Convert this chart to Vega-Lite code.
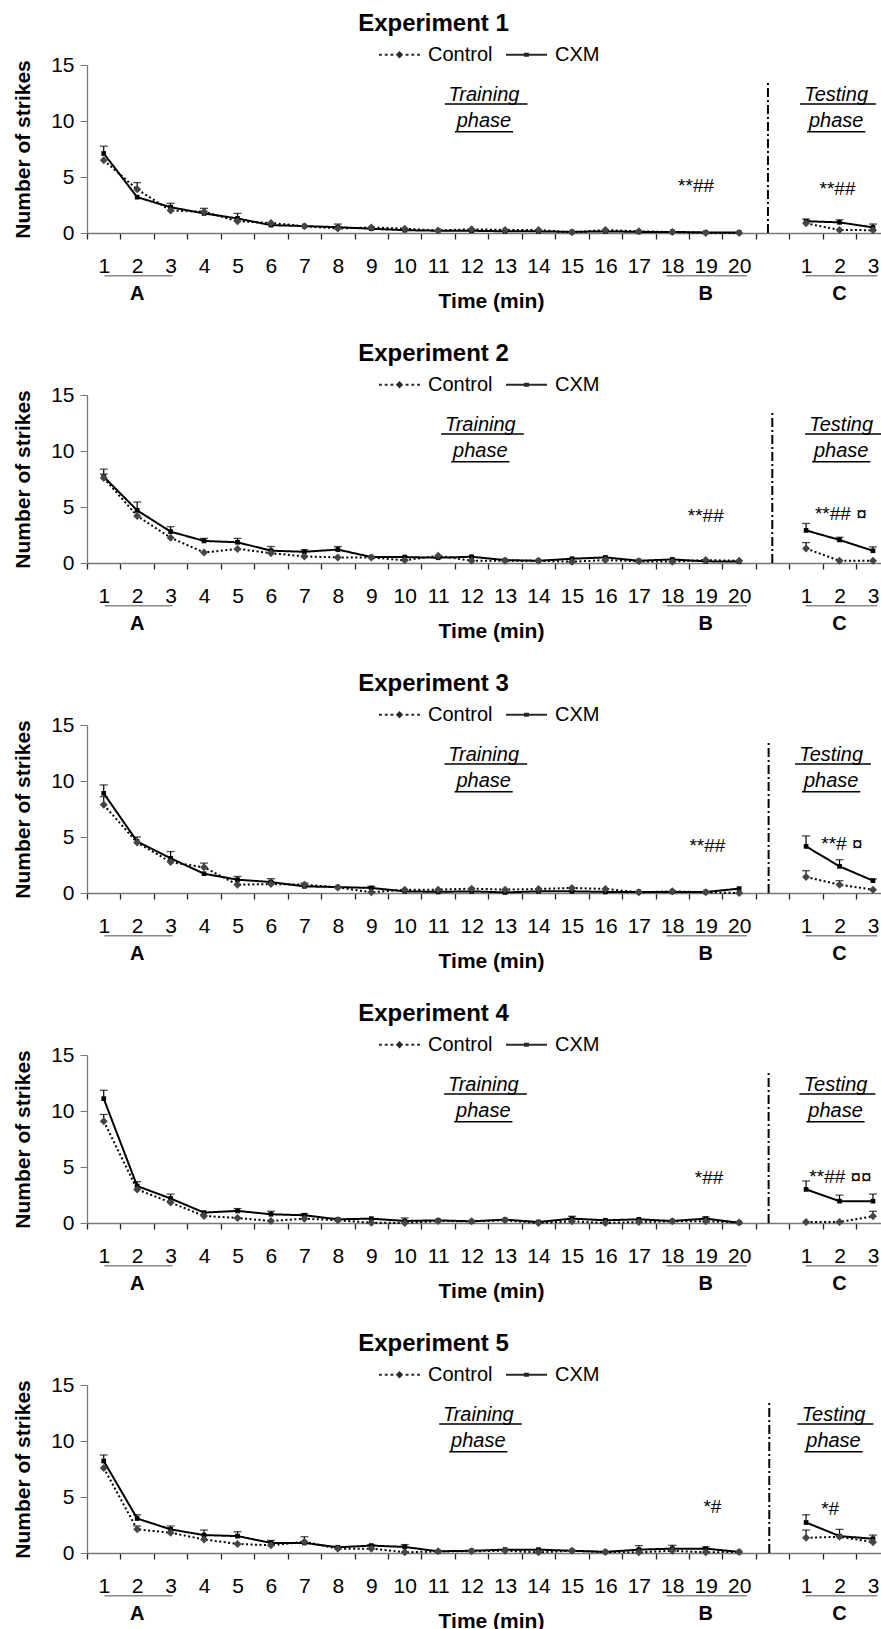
{
"$schema": "https://vega.github.io/schema/vega-lite/v6.json",
"padding": {"left": 12, "top": 12, "right": 0, "bottom": 0},
"background": "white",
"config": {
 "font": "Liberation Sans",
 "view": {"stroke": null},
 "title": {"fontSize": 24, "fontWeight": "bold", "color": "black", "anchor": "middle", "frame": "group", "offset": -3},
 "axis": {"grid": false}
},
"datasets": {
 "d": [
{"e":1,"g":"CXM","phase":"Training","t":1,"y":7.1,"hi":7.75},{"e":1,"g":"CXM","phase":"Training","t":2,"y":3.2},{"e":1,"g":"CXM","phase":"Training","t":3,"y":2.3,"hi":2.65},{"e":1,"g":"CXM","phase":"Training","t":4,"y":1.75},{"e":1,"g":"CXM","phase":"Training","t":5,"y":1.3,"hi":1.75},{"e":1,"g":"CXM","phase":"Training","t":6,"y":0.7},{"e":1,"g":"CXM","phase":"Training","t":7,"y":0.62},{"e":1,"g":"CXM","phase":"Training","t":8,"y":0.52,"hi":0.8},{"e":1,"g":"CXM","phase":"Training","t":9,"y":0.38},{"e":1,"g":"CXM","phase":"Training","t":10,"y":0.25},{"e":1,"g":"CXM","phase":"Training","t":11,"y":0.2},{"e":1,"g":"CXM","phase":"Training","t":12,"y":0.2},{"e":1,"g":"CXM","phase":"Training","t":13,"y":0.15},{"e":1,"g":"CXM","phase":"Training","t":14,"y":0.15},{"e":1,"g":"CXM","phase":"Training","t":15,"y":0.1},{"e":1,"g":"CXM","phase":"Training","t":16,"y":0.15},{"e":1,"g":"CXM","phase":"Training","t":17,"y":0.1},{"e":1,"g":"CXM","phase":"Training","t":18,"y":0.1},{"e":1,"g":"CXM","phase":"Training","t":19,"y":0.05},{"e":1,"g":"CXM","phase":"Training","t":20,"y":0.05},
{"e":1,"g":"CXM","phase":"Testing","t":1,"y":1.05,"hi":1.25},{"e":1,"g":"CXM","phase":"Testing","t":2,"y":0.95,"hi":1.18},{"e":1,"g":"CXM","phase":"Testing","t":3,"y":0.5,"hi":0.8},
{"e":1,"g":"Control","phase":"Training","t":1,"y":6.5},{"e":1,"g":"Control","phase":"Training","t":2,"y":3.9,"hi":4.5},{"e":1,"g":"Control","phase":"Training","t":3,"y":2.0},{"e":1,"g":"Control","phase":"Training","t":4,"y":1.9,"hi":2.2},{"e":1,"g":"Control","phase":"Training","t":5,"y":1.05},{"e":1,"g":"Control","phase":"Training","t":6,"y":0.9},{"e":1,"g":"Control","phase":"Training","t":7,"y":0.6},{"e":1,"g":"Control","phase":"Training","t":8,"y":0.4},{"e":1,"g":"Control","phase":"Training","t":9,"y":0.5},{"e":1,"g":"Control","phase":"Training","t":10,"y":0.38},{"e":1,"g":"Control","phase":"Training","t":11,"y":0.23},{"e":1,"g":"Control","phase":"Training","t":12,"y":0.33},{"e":1,"g":"Control","phase":"Training","t":13,"y":0.27},{"e":1,"g":"Control","phase":"Training","t":14,"y":0.27},{"e":1,"g":"Control","phase":"Training","t":15,"y":0.06},{"e":1,"g":"Control","phase":"Training","t":16,"y":0.27},{"e":1,"g":"Control","phase":"Training","t":17,"y":0.15},{"e":1,"g":"Control","phase":"Training","t":18,"y":0.09},{"e":1,"g":"Control","phase":"Training","t":19,"y":0.0},{"e":1,"g":"Control","phase":"Training","t":20,"y":0.0},
{"e":1,"g":"Control","phase":"Testing","t":1,"y":0.86},{"e":1,"g":"Control","phase":"Testing","t":2,"y":0.27},{"e":1,"g":"Control","phase":"Testing","t":3,"y":0.25},
{"e":2,"g":"CXM","phase":"Training","t":1,"y":7.7,"hi":8.38},{"e":2,"g":"CXM","phase":"Training","t":2,"y":4.7,"hi":5.44},{"e":2,"g":"CXM","phase":"Training","t":3,"y":2.8,"hi":3.24},{"e":2,"g":"CXM","phase":"Training","t":4,"y":1.97,"hi":2.2},{"e":2,"g":"CXM","phase":"Training","t":5,"y":1.85,"hi":2.2},{"e":2,"g":"CXM","phase":"Training","t":6,"y":1.1,"hi":1.47},{"e":2,"g":"CXM","phase":"Training","t":7,"y":1.0,"hi":1.18},{"e":2,"g":"CXM","phase":"Training","t":8,"y":1.2,"hi":1.47},{"e":2,"g":"CXM","phase":"Training","t":9,"y":0.53},{"e":2,"g":"CXM","phase":"Training","t":10,"y":0.53},{"e":2,"g":"CXM","phase":"Training","t":11,"y":0.47},{"e":2,"g":"CXM","phase":"Training","t":12,"y":0.56},{"e":2,"g":"CXM","phase":"Training","t":13,"y":0.26},{"e":2,"g":"CXM","phase":"Training","t":14,"y":0.2},{"e":2,"g":"CXM","phase":"Training","t":15,"y":0.38},{"e":2,"g":"CXM","phase":"Training","t":16,"y":0.5},{"e":2,"g":"CXM","phase":"Training","t":17,"y":0.2},{"e":2,"g":"CXM","phase":"Training","t":18,"y":0.32},{"e":2,"g":"CXM","phase":"Training","t":19,"y":0.15},{"e":2,"g":"CXM","phase":"Training","t":20,"y":0.12},
{"e":2,"g":"CXM","phase":"Testing","t":1,"y":2.91,"hi":3.53},{"e":2,"g":"CXM","phase":"Testing","t":2,"y":2.06,"hi":2.3},{"e":2,"g":"CXM","phase":"Testing","t":3,"y":1.09,"hi":1.44},
{"e":2,"g":"Control","phase":"Training","t":1,"y":7.6,"hi":7.94},{"e":2,"g":"Control","phase":"Training","t":2,"y":4.2},{"e":2,"g":"Control","phase":"Training","t":3,"y":2.26},{"e":2,"g":"Control","phase":"Training","t":4,"y":0.94},{"e":2,"g":"Control","phase":"Training","t":5,"y":1.26},{"e":2,"g":"Control","phase":"Training","t":6,"y":0.88},{"e":2,"g":"Control","phase":"Training","t":7,"y":0.59},{"e":2,"g":"Control","phase":"Training","t":8,"y":0.5},{"e":2,"g":"Control","phase":"Training","t":9,"y":0.5},{"e":2,"g":"Control","phase":"Training","t":10,"y":0.24},{"e":2,"g":"Control","phase":"Training","t":11,"y":0.65},{"e":2,"g":"Control","phase":"Training","t":12,"y":0.2},{"e":2,"g":"Control","phase":"Training","t":13,"y":0.2},{"e":2,"g":"Control","phase":"Training","t":14,"y":0.2},{"e":2,"g":"Control","phase":"Training","t":15,"y":0.12},{"e":2,"g":"Control","phase":"Training","t":16,"y":0.26},{"e":2,"g":"Control","phase":"Training","t":17,"y":0.15},{"e":2,"g":"Control","phase":"Training","t":18,"y":0.12},{"e":2,"g":"Control","phase":"Training","t":19,"y":0.26},{"e":2,"g":"Control","phase":"Training","t":20,"y":0.2},
{"e":2,"g":"Control","phase":"Testing","t":1,"y":1.29,"hi":1.82},{"e":2,"g":"Control","phase":"Testing","t":2,"y":0.2},{"e":2,"g":"Control","phase":"Testing","t":3,"y":0.2},
{"e":3,"g":"CXM","phase":"Training","t":1,"y":8.9,"hi":9.65},{"e":3,"g":"CXM","phase":"Training","t":2,"y":4.6,"hi":5.0},{"e":3,"g":"CXM","phase":"Training","t":3,"y":3.1,"hi":3.7},{"e":3,"g":"CXM","phase":"Training","t":4,"y":1.72},{"e":3,"g":"CXM","phase":"Training","t":5,"y":1.19,"hi":1.48},{"e":3,"g":"CXM","phase":"Training","t":6,"y":0.98,"hi":1.28},{"e":3,"g":"CXM","phase":"Training","t":7,"y":0.59,"hi":0.89},{"e":3,"g":"CXM","phase":"Training","t":8,"y":0.53},{"e":3,"g":"CXM","phase":"Training","t":9,"y":0.45,"hi":0.59},{"e":3,"g":"CXM","phase":"Training","t":10,"y":0.15},{"e":3,"g":"CXM","phase":"Training","t":11,"y":0.1},{"e":3,"g":"CXM","phase":"Training","t":12,"y":0.15},{"e":3,"g":"CXM","phase":"Training","t":13,"y":0.05},{"e":3,"g":"CXM","phase":"Training","t":14,"y":0.15},{"e":3,"g":"CXM","phase":"Training","t":15,"y":0.15},{"e":3,"g":"CXM","phase":"Training","t":16,"y":0.1},{"e":3,"g":"CXM","phase":"Training","t":17,"y":0.1},{"e":3,"g":"CXM","phase":"Training","t":18,"y":0.1},{"e":3,"g":"CXM","phase":"Training","t":19,"y":0.09},{"e":3,"g":"CXM","phase":"Training","t":20,"y":0.39},
{"e":3,"g":"CXM","phase":"Testing","t":1,"y":4.16,"hi":5.1},{"e":3,"g":"CXM","phase":"Testing","t":2,"y":2.38,"hi":2.97},{"e":3,"g":"CXM","phase":"Testing","t":3,"y":1.1,"hi":1.25},
{"e":3,"g":"Control","phase":"Training","t":1,"y":7.87,"hi":8.6},{"e":3,"g":"Control","phase":"Training","t":2,"y":4.5},{"e":3,"g":"Control","phase":"Training","t":3,"y":2.76},{"e":3,"g":"Control","phase":"Training","t":4,"y":2.29,"hi":2.67},{"e":3,"g":"Control","phase":"Training","t":5,"y":0.74},{"e":3,"g":"Control","phase":"Training","t":6,"y":0.8},{"e":3,"g":"Control","phase":"Training","t":7,"y":0.74},{"e":3,"g":"Control","phase":"Training","t":8,"y":0.5},{"e":3,"g":"Control","phase":"Training","t":9,"y":0.06},{"e":3,"g":"Control","phase":"Training","t":10,"y":0.3},{"e":3,"g":"Control","phase":"Training","t":11,"y":0.3},{"e":3,"g":"Control","phase":"Training","t":12,"y":0.39},{"e":3,"g":"Control","phase":"Training","t":13,"y":0.3},{"e":3,"g":"Control","phase":"Training","t":14,"y":0.36},{"e":3,"g":"Control","phase":"Training","t":15,"y":0.45},{"e":3,"g":"Control","phase":"Training","t":16,"y":0.36},{"e":3,"g":"Control","phase":"Training","t":17,"y":0.06},{"e":3,"g":"Control","phase":"Training","t":18,"y":0.15},{"e":3,"g":"Control","phase":"Training","t":19,"y":0.06},{"e":3,"g":"Control","phase":"Training","t":20,"y":0.0},
{"e":3,"g":"Control","phase":"Testing","t":1,"y":1.43,"hi":1.99},{"e":3,"g":"Control","phase":"Testing","t":2,"y":0.74,"hi":1.1},{"e":3,"g":"Control","phase":"Testing","t":3,"y":0.3},
{"e":4,"g":"CXM","phase":"Training","t":1,"y":11.1,"hi":11.85},{"e":4,"g":"CXM","phase":"Training","t":2,"y":3.3,"hi":3.69},{"e":4,"g":"CXM","phase":"Training","t":3,"y":2.19,"hi":2.58},{"e":4,"g":"CXM","phase":"Training","t":4,"y":0.93},{"e":4,"g":"CXM","phase":"Training","t":5,"y":1.08,"hi":1.29},{"e":4,"g":"CXM","phase":"Training","t":6,"y":0.78,"hi":1.05},{"e":4,"g":"CXM","phase":"Training","t":7,"y":0.69,"hi":0.84},{"e":4,"g":"CXM","phase":"Training","t":8,"y":0.33},{"e":4,"g":"CXM","phase":"Training","t":9,"y":0.39},{"e":4,"g":"CXM","phase":"Training","t":10,"y":0.18,"hi":0.45},{"e":4,"g":"CXM","phase":"Training","t":11,"y":0.24},{"e":4,"g":"CXM","phase":"Training","t":12,"y":0.15},{"e":4,"g":"CXM","phase":"Training","t":13,"y":0.3},{"e":4,"g":"CXM","phase":"Training","t":14,"y":0.09},{"e":4,"g":"CXM","phase":"Training","t":15,"y":0.39,"hi":0.6},{"e":4,"g":"CXM","phase":"Training","t":16,"y":0.24},{"e":4,"g":"CXM","phase":"Training","t":17,"y":0.33},{"e":4,"g":"CXM","phase":"Training","t":18,"y":0.18},{"e":4,"g":"CXM","phase":"Training","t":19,"y":0.39,"hi":0.54},{"e":4,"g":"CXM","phase":"Training","t":20,"y":0.02},
{"e":4,"g":"CXM","phase":"Testing","t":1,"y":3.0,"hi":3.75},{"e":4,"g":"CXM","phase":"Testing","t":2,"y":1.95,"hi":2.49},{"e":4,"g":"CXM","phase":"Testing","t":3,"y":1.95,"hi":2.58},
{"e":4,"g":"Control","phase":"Training","t":1,"y":9.09,"hi":9.69},{"e":4,"g":"Control","phase":"Training","t":2,"y":3.0},{"e":4,"g":"Control","phase":"Training","t":3,"y":1.83},{"e":4,"g":"Control","phase":"Training","t":4,"y":0.63},{"e":4,"g":"Control","phase":"Training","t":5,"y":0.45},{"e":4,"g":"Control","phase":"Training","t":6,"y":0.18},{"e":4,"g":"Control","phase":"Training","t":7,"y":0.39},{"e":4,"g":"Control","phase":"Training","t":8,"y":0.24},{"e":4,"g":"Control","phase":"Training","t":9,"y":0.03},{"e":4,"g":"Control","phase":"Training","t":10,"y":0.0},{"e":4,"g":"Control","phase":"Training","t":11,"y":0.18},{"e":4,"g":"Control","phase":"Training","t":12,"y":0.15},{"e":4,"g":"Control","phase":"Training","t":13,"y":0.24},{"e":4,"g":"Control","phase":"Training","t":14,"y":0.0},{"e":4,"g":"Control","phase":"Training","t":15,"y":0.15},{"e":4,"g":"Control","phase":"Training","t":16,"y":0.0},{"e":4,"g":"Control","phase":"Training","t":17,"y":0.09},{"e":4,"g":"Control","phase":"Training","t":18,"y":0.15},{"e":4,"g":"Control","phase":"Training","t":19,"y":0.15},{"e":4,"g":"Control","phase":"Training","t":20,"y":0.05},
{"e":4,"g":"Control","phase":"Testing","t":1,"y":0.09},{"e":4,"g":"Control","phase":"Testing","t":2,"y":0.09},{"e":4,"g":"Control","phase":"Testing","t":3,"y":0.6,"hi":1.05},
{"e":5,"g":"CXM","phase":"Training","t":1,"y":8.21,"hi":8.75},{"e":5,"g":"CXM","phase":"Training","t":2,"y":3.08,"hi":3.41},{"e":5,"g":"CXM","phase":"Training","t":3,"y":2.11,"hi":2.41},{"e":5,"g":"CXM","phase":"Training","t":4,"y":1.6,"hi":2.05},{"e":5,"g":"CXM","phase":"Training","t":5,"y":1.51,"hi":1.9},{"e":5,"g":"CXM","phase":"Training","t":6,"y":0.9,"hi":1.12},{"e":5,"g":"CXM","phase":"Training","t":7,"y":0.9,"hi":1.45},{"e":5,"g":"CXM","phase":"Training","t":8,"y":0.51},{"e":5,"g":"CXM","phase":"Training","t":9,"y":0.66,"hi":0.75},{"e":5,"g":"CXM","phase":"Training","t":10,"y":0.54,"hi":0.75},{"e":5,"g":"CXM","phase":"Training","t":11,"y":0.15},{"e":5,"g":"CXM","phase":"Training","t":12,"y":0.2},{"e":5,"g":"CXM","phase":"Training","t":13,"y":0.3},{"e":5,"g":"CXM","phase":"Training","t":14,"y":0.3},{"e":5,"g":"CXM","phase":"Training","t":15,"y":0.2},{"e":5,"g":"CXM","phase":"Training","t":16,"y":0.1},{"e":5,"g":"CXM","phase":"Training","t":17,"y":0.3,"hi":0.66},{"e":5,"g":"CXM","phase":"Training","t":18,"y":0.39,"hi":0.69},{"e":5,"g":"CXM","phase":"Training","t":19,"y":0.39,"hi":0.54},{"e":5,"g":"CXM","phase":"Training","t":20,"y":0.1},
{"e":5,"g":"CXM","phase":"Testing","t":1,"y":2.72,"hi":3.41},{"e":5,"g":"CXM","phase":"Testing","t":2,"y":1.51,"hi":2.11},{"e":5,"g":"CXM","phase":"Testing","t":3,"y":1.27,"hi":1.6},
{"e":5,"g":"Control","phase":"Training","t":1,"y":7.6},{"e":5,"g":"Control","phase":"Training","t":2,"y":2.11,"hi":2.41},{"e":5,"g":"Control","phase":"Training","t":3,"y":1.81},{"e":5,"g":"Control","phase":"Training","t":4,"y":1.21},{"e":5,"g":"Control","phase":"Training","t":5,"y":0.81},{"e":5,"g":"Control","phase":"Training","t":6,"y":0.69},{"e":5,"g":"Control","phase":"Training","t":7,"y":1.0},{"e":5,"g":"Control","phase":"Training","t":8,"y":0.39},{"e":5,"g":"Control","phase":"Training","t":9,"y":0.39},{"e":5,"g":"Control","phase":"Training","t":10,"y":0.06},{"e":5,"g":"Control","phase":"Training","t":11,"y":0.15},{"e":5,"g":"Control","phase":"Training","t":12,"y":0.15},{"e":5,"g":"Control","phase":"Training","t":13,"y":0.2},{"e":5,"g":"Control","phase":"Training","t":14,"y":0.06},{"e":5,"g":"Control","phase":"Training","t":15,"y":0.2},{"e":5,"g":"Control","phase":"Training","t":16,"y":0.1},{"e":5,"g":"Control","phase":"Training","t":17,"y":0.06},{"e":5,"g":"Control","phase":"Training","t":18,"y":0.2},{"e":5,"g":"Control","phase":"Training","t":19,"y":0.06},{"e":5,"g":"Control","phase":"Training","t":20,"y":0.1},
{"e":5,"g":"Control","phase":"Testing","t":1,"y":1.36,"hi":2.05},{"e":5,"g":"Control","phase":"Testing","t":2,"y":1.45},{"e":5,"g":"Control","phase":"Testing","t":3,"y":0.97}
 ],
 "ann": [
{"e":1,"kind":"phase","x":12.37,"y":11.81,"text":"Training"},{"e":1,"kind":"phase","x":12.37,"y":9.43,"text":"phase"},{"e":1,"kind":"phase","x":22.9,"y":11.81,"text":"Testing"},{"e":1,"kind":"phase","x":22.9,"y":9.43,"text":"phase"},
{"e":1,"kind":"sig","x":18.71,"y":4.2,"text":"**##"},{"e":1,"kind":"sig","x":22.94,"y":3.95,"text":"**##"},
{"e":1,"kind":"abc","x":2,"y":-5.45,"text":"A"},{"e":1,"kind":"abc","x":19,"y":-5.45,"text":"B"},{"e":1,"kind":"abc","x":23,"y":-5.45,"text":"C"},
{"e":2,"kind":"phase","x":12.26,"y":11.81,"text":"Training"},{"e":2,"kind":"phase","x":12.26,"y":9.43,"text":"phase"},{"e":2,"kind":"phase","x":23.05,"y":11.81,"text":"Testing"},{"e":2,"kind":"phase","x":23.05,"y":9.43,"text":"phase"},
{"e":2,"kind":"sig","x":19.0,"y":4.2,"text":"**##"},{"e":2,"kind":"sig","x":23.04,"y":4.4,"text":"**## ¤"},
{"e":2,"kind":"abc","x":2,"y":-5.45,"text":"A"},{"e":2,"kind":"abc","x":19,"y":-5.45,"text":"B"},{"e":2,"kind":"abc","x":23,"y":-5.45,"text":"C"},
{"e":3,"kind":"phase","x":12.36,"y":11.81,"text":"Training"},{"e":3,"kind":"phase","x":12.36,"y":9.43,"text":"phase"},{"e":3,"kind":"phase","x":22.75,"y":11.81,"text":"Testing"},{"e":3,"kind":"phase","x":22.75,"y":9.43,"text":"phase"},
{"e":3,"kind":"sig","x":19.05,"y":4.2,"text":"**##"},{"e":3,"kind":"sig","x":23.07,"y":4.36,"text":"**# ¤"},
{"e":3,"kind":"abc","x":2,"y":-5.45,"text":"A"},{"e":3,"kind":"abc","x":19,"y":-5.45,"text":"B"},{"e":3,"kind":"abc","x":23,"y":-5.45,"text":"C"},
{"e":4,"kind":"phase","x":12.35,"y":11.81,"text":"Training"},{"e":4,"kind":"phase","x":12.35,"y":9.43,"text":"phase"},{"e":4,"kind":"phase","x":22.88,"y":11.81,"text":"Testing"},{"e":4,"kind":"phase","x":22.88,"y":9.43,"text":"phase"},
{"e":4,"kind":"sig","x":19.1,"y":4.03,"text":"*##"},{"e":4,"kind":"sig","x":23.03,"y":4.15,"text":"**## ¤¤"},
{"e":4,"kind":"abc","x":2,"y":-5.45,"text":"A"},{"e":4,"kind":"abc","x":19,"y":-5.45,"text":"B"},{"e":4,"kind":"abc","x":23,"y":-5.45,"text":"C"},
{"e":5,"kind":"phase","x":12.2,"y":11.81,"text":"Training"},{"e":5,"kind":"phase","x":12.2,"y":9.43,"text":"phase"},{"e":5,"kind":"phase","x":22.82,"y":11.81,"text":"Testing"},{"e":5,"kind":"phase","x":22.82,"y":9.43,"text":"phase"},
{"e":5,"kind":"sig","x":19.2,"y":4.1,"text":"*#"},{"e":5,"kind":"sig","x":22.72,"y":3.92,"text":"*#"},
{"e":5,"kind":"abc","x":2,"y":-5.45,"text":"A"},{"e":5,"kind":"abc","x":19,"y":-5.45,"text":"B"},{"e":5,"kind":"abc","x":23,"y":-5.45,"text":"C"}
 ],
 "ul": [
{"e":1,"kind":"phase","x":11.2,"x2":13.67,"y":11.52},{"e":1,"kind":"phase","x":11.5,"x2":13.24,"y":9.04},{"e":1,"kind":"phase","x":21.82,"x2":24.09,"y":11.52},{"e":1,"kind":"phase","x":22.03,"x2":23.77,"y":9.04},
{"e":1,"kind":"abc","x":1.02,"x2":3.06,"y":-3.81},{"e":1,"kind":"abc","x":17.83,"x2":20.23,"y":-3.81},{"e":1,"kind":"abc","x":21.99,"x2":24.13,"y":-3.81},
{"e":2,"kind":"phase","x":11.09,"x2":13.56,"y":11.52},{"e":2,"kind":"phase","x":11.39,"x2":13.13,"y":9.04},{"e":2,"kind":"phase","x":21.97,"x2":24.24,"y":11.52},{"e":2,"kind":"phase","x":22.18,"x2":23.92,"y":9.04},
{"e":2,"kind":"abc","x":1.02,"x2":3.06,"y":-3.81},{"e":2,"kind":"abc","x":17.83,"x2":20.23,"y":-3.81},{"e":2,"kind":"abc","x":21.99,"x2":24.13,"y":-3.81},
{"e":3,"kind":"phase","x":11.19,"x2":13.66,"y":11.52},{"e":3,"kind":"phase","x":11.49,"x2":13.23,"y":9.04},{"e":3,"kind":"phase","x":21.67,"x2":23.94,"y":11.52},{"e":3,"kind":"phase","x":21.88,"x2":23.62,"y":9.04},
{"e":3,"kind":"abc","x":1.02,"x2":3.06,"y":-3.81},{"e":3,"kind":"abc","x":17.83,"x2":20.23,"y":-3.81},{"e":3,"kind":"abc","x":21.99,"x2":24.13,"y":-3.81},
{"e":4,"kind":"phase","x":11.18,"x2":13.65,"y":11.52},{"e":4,"kind":"phase","x":11.48,"x2":13.22,"y":9.04},{"e":4,"kind":"phase","x":21.8,"x2":24.07,"y":11.52},{"e":4,"kind":"phase","x":22.01,"x2":23.75,"y":9.04},
{"e":4,"kind":"abc","x":1.02,"x2":3.06,"y":-3.81},{"e":4,"kind":"abc","x":17.83,"x2":20.23,"y":-3.81},{"e":4,"kind":"abc","x":21.99,"x2":24.13,"y":-3.81},
{"e":5,"kind":"phase","x":11.03,"x2":13.5,"y":11.52},{"e":5,"kind":"phase","x":11.33,"x2":13.07,"y":9.04},{"e":5,"kind":"phase","x":21.74,"x2":24.01,"y":11.52},{"e":5,"kind":"phase","x":21.95,"x2":23.69,"y":9.04},
{"e":5,"kind":"abc","x":1.02,"x2":3.06,"y":-3.81},{"e":5,"kind":"abc","x":17.83,"x2":20.23,"y":-3.81},{"e":5,"kind":"abc","x":21.99,"x2":24.13,"y":-3.81}
 ],
 "div": [
{"e":1,"x":20.86,"y":0,"y2":13.5},{"e":2,"x":20.99,"y":0,"y2":13.6},{"e":3,"x":20.88,"y":0,"y2":13.5},{"e":4,"x":20.88,"y":0,"y2":13.6},{"e":5,"x":20.9,"y":0,"y2":13.45}
 ]
},
"bounds": "flush",
"spacing": 162,
"resolve": {"scale": {"shape": "independent"}, "legend": {"shape": "independent"}},
"vconcat": [
{"width": 795, "height": 168, "title": {"text": "Experiment 1", "dx": -51}, "resolve": {"axis": {"x": "independent"}, "scale": {"shape": "independent"}, "legend": {"shape": "independent"}},
 "layer": [
  {"data": {"name": "div"}, "transform": [{"filter": "datum.e == 1"}], "mark": {"type": "rule", "color": "black", "strokeWidth": 2, "strokeDash": [9,3,2,3]},
   "encoding": {"x": {"field": "x", "type": "quantitative", "scale": {"domain": [0.5, 24.27]}, "axis": {"orient": "bottom", "values": [0.5,1.5,2.5,3.5,4.5,5.5,6.5,7.5,8.5,9.5,10.5,11.5,12.5,13.5,14.5,15.5,16.5,17.5,18.5,19.5,20.5,21.5,22.5,23.5], "labels": false, "tickSize": 6, "tickColor": "#222", "tickWidth": 1.3, "domainColor": "#777", "domainWidth": 1.5, "title": null}},
    "y": {"field": "y", "type": "quantitative", "scale": {"domain": [0, 15]}, "axis": {"orient": "left", "values": [0,5,10,15], "title": "Number of strikes", "titleFontSize": 21, "titleFontWeight": "bold", "titleColor": "black", "titlePadding": 17, "labelFontSize": 21, "labelColor": "black", "labelPadding": 6, "tickSize": 7, "tickColor": "#777", "domainColor": "#777", "domainWidth": 1.3, "labelFlush": false}},
    "y2": {"field": "y2"}}},
  {"data": {"name": "ul"}, "transform": [{"filter": "datum.e == 1"}], "mark": {"type": "rule", "strokeWidth": 1.5},
   "encoding": {"x": {"field": "x", "type": "quantitative", "scale": {"domain": [0.5, 24.27]}, "axis": {"orient": "bottom", "values": [1,2,3,4,5,6,7,8,9,10,11,12,13,14,15,16,17,18,19,20,22,23,24], "labelExpr": "datum.value > 21 ? datum.value - 21 : datum.value", "domain": false, "ticks": false, "tickSize": 0, "labelPadding": 22, "labelFontSize": 21, "labelColor": "black", "labelFlush": false, "labelOverlap": false, "labelBound": false, "title": "Time (min)", "titleFontSize": 21, "titleFontWeight": "bold", "titleColor": "black", "titlePadding": 14, "titleX": 404}},
    "x2": {"field": "x2"},
    "y": {"field": "y", "type": "quantitative", "scale": {"domain": [0, 15]}},
    "color": {"field": "kind", "type": "nominal", "scale": {"domain": ["phase", "abc"], "range": ["black", "#8a8a8a"]}, "legend": null}}},
  {"data": {"name": "ann"}, "transform": [{"filter": "datum.e == 1 && datum.kind == 'phase'"}], "mark": {"type": "text", "fontStyle": "italic", "fontSize": 20, "baseline": "alphabetic", "align": "center", "color": "black"},
   "encoding": {"x": {"field": "x", "type": "quantitative", "scale": {"domain": [0.5, 24.27]}, "axis": null}, "y": {"field": "y", "type": "quantitative", "scale": {"domain": [0, 15]}}, "text": {"field": "text"}}},
  {"data": {"name": "ann"}, "transform": [{"filter": "datum.e == 1 && datum.kind == 'sig'"}], "mark": {"type": "text", "fontSize": 19, "baseline": "middle", "align": "center", "color": "black"},
   "encoding": {"x": {"field": "x", "type": "quantitative", "scale": {"domain": [0.5, 24.27]}, "axis": null}, "y": {"field": "y", "type": "quantitative", "scale": {"domain": [0, 15]}}, "text": {"field": "text"}}},
  {"data": {"name": "ann"}, "transform": [{"filter": "datum.e == 1 && datum.kind == 'abc'"}], "mark": {"type": "text", "fontSize": 20, "fontWeight": "bold", "baseline": "middle", "align": "center", "color": "black"},
   "encoding": {"x": {"field": "x", "type": "quantitative", "scale": {"domain": [0.5, 24.27]}, "axis": null}, "y": {"field": "y", "type": "quantitative", "scale": {"domain": [0, 15]}}, "text": {"field": "text"}}},
  {"data": {"name": "d"}, "transform": [{"filter": "datum.e == 1"}, {"calculate": "datum.phase == 'Testing' ? datum.t + 21 : datum.t", "as": "x"}],
   "layer": [
    {"mark": {"type": "line", "color": "black", "strokeWidth": 2},
     "encoding": {"x": {"field": "x", "type": "quantitative", "scale": {"domain": [0.5, 24.27]}, "axis": null}, "y": {"field": "y", "type": "quantitative", "scale": {"domain": [0, 15]}}, "strokeDash": {"field": "g", "type": "nominal", "scale": {"domain": ["Control", "CXM"], "range": [[2, 2.5], [1, 0]]}, "legend": null}, "detail": {"field": "phase"}}},
    {"transform": [{"filter": "datum.hi != null"}], "mark": {"type": "rule", "color": "black", "strokeWidth": 1.2},
     "encoding": {"x": {"field": "x", "type": "quantitative", "scale": {"domain": [0.5, 24.27]}, "axis": null}, "y": {"field": "y", "type": "quantitative", "scale": {"domain": [0, 15]}}, "y2": {"field": "hi"}}},
    {"transform": [{"filter": "datum.hi != null"}], "mark": {"type": "tick", "orient": "horizontal", "color": "black", "size": 8, "thickness": 1.3},
     "encoding": {"x": {"field": "x", "type": "quantitative", "scale": {"domain": [0.5, 24.27]}, "axis": null}, "y": {"field": "hi", "type": "quantitative", "scale": {"domain": [0, 15]}}}},
    {"mark": {"type": "point", "filled": true, "opacity": 1},
     "encoding": {"x": {"field": "x", "type": "quantitative", "scale": {"domain": [0.5, 24.27]}, "axis": null}, "y": {"field": "y", "type": "quantitative", "scale": {"domain": [0, 15]}},
      "shape": {"field": "g", "type": "nominal", "scale": {"domain": ["Control", "CXM"], "range": ["diamond", "square"]}, "legend": null},
      "fill": {"field": "g", "type": "nominal", "scale": {"domain": ["Control", "CXM"], "range": ["#454545", "#000000"]}, "legend": null},
      "size": {"field": "g", "type": "nominal", "scale": {"domain": ["Control", "CXM"], "range": [64, 22]}, "legend": null}}}
   ]},
  {"data": {"name": "d"}, "transform": [{"filter": "false"}], "mark": {"type": "point", "filled": true, "color": "#2a2a2a", "opacity": 1},
   "encoding": {"x": {"field": "t", "type": "quantitative", "scale": {"domain": [0.5, 24.27]}, "axis": null}, "y": {"field": "y", "type": "quantitative", "scale": {"domain": [0, 15]}},
    "shape": {"field": "g", "type": "nominal", "scale": {"domain": ["Control", "CXM"], "range": ["M-1,-0.045H-0.86V0.045H-1Z M-0.72,-0.045H-0.58V0.045H-0.72Z M-0.44,-0.045H-0.3V0.045H-0.44Z M0.3,-0.045H0.44V0.045H0.3Z M0.58,-0.045H0.72V0.045H0.58Z M0.86,-0.045H1V0.045H0.86Z M0,-0.18L0.18,0L0,0.18L-0.18,0Z", "M-1,-0.045H1V0.045H-1Z M-0.12,-0.1H0.12V0.1H-0.12Z"]}, "legend": {"title": null, "orient": "none", "legendX": 291, "legendY": -32, "direction": "horizontal", "labelFontSize": 20, "labelColor": "black", "labelOffset": 7, "columnPadding": 10, "symbolSize": 1681, "symbolFillColor": "#2a2a2a", "symbolOpacity": 1, "padding": 0}}}}
 ]},
{"width": 795, "height": 168, "title": {"text": "Experiment 2", "dx": -51}, "resolve": {"axis": {"x": "independent"}, "scale": {"shape": "independent"}, "legend": {"shape": "independent"}},
 "layer": [
  {"data": {"name": "div"}, "transform": [{"filter": "datum.e == 2"}], "mark": {"type": "rule", "color": "black", "strokeWidth": 2, "strokeDash": [9,3,2,3]},
   "encoding": {"x": {"field": "x", "type": "quantitative", "scale": {"domain": [0.5, 24.27]}, "axis": {"orient": "bottom", "values": [0.5,1.5,2.5,3.5,4.5,5.5,6.5,7.5,8.5,9.5,10.5,11.5,12.5,13.5,14.5,15.5,16.5,17.5,18.5,19.5,20.5,21.5,22.5,23.5], "labels": false, "tickSize": 6, "tickColor": "#222", "tickWidth": 1.3, "domainColor": "#777", "domainWidth": 1.5, "title": null}},
    "y": {"field": "y", "type": "quantitative", "scale": {"domain": [0, 15]}, "axis": {"orient": "left", "values": [0,5,10,15], "title": "Number of strikes", "titleFontSize": 21, "titleFontWeight": "bold", "titleColor": "black", "titlePadding": 17, "labelFontSize": 21, "labelColor": "black", "labelPadding": 6, "tickSize": 7, "tickColor": "#777", "domainColor": "#777", "domainWidth": 1.3, "labelFlush": false}},
    "y2": {"field": "y2"}}},
  {"data": {"name": "ul"}, "transform": [{"filter": "datum.e == 2"}], "mark": {"type": "rule", "strokeWidth": 1.5},
   "encoding": {"x": {"field": "x", "type": "quantitative", "scale": {"domain": [0.5, 24.27]}, "axis": {"orient": "bottom", "values": [1,2,3,4,5,6,7,8,9,10,11,12,13,14,15,16,17,18,19,20,22,23,24], "labelExpr": "datum.value > 21 ? datum.value - 21 : datum.value", "domain": false, "ticks": false, "tickSize": 0, "labelPadding": 22, "labelFontSize": 21, "labelColor": "black", "labelFlush": false, "labelOverlap": false, "labelBound": false, "title": "Time (min)", "titleFontSize": 21, "titleFontWeight": "bold", "titleColor": "black", "titlePadding": 14, "titleX": 404}},
    "x2": {"field": "x2"},
    "y": {"field": "y", "type": "quantitative", "scale": {"domain": [0, 15]}},
    "color": {"field": "kind", "type": "nominal", "scale": {"domain": ["phase", "abc"], "range": ["black", "#8a8a8a"]}, "legend": null}}},
  {"data": {"name": "ann"}, "transform": [{"filter": "datum.e == 2 && datum.kind == 'phase'"}], "mark": {"type": "text", "fontStyle": "italic", "fontSize": 20, "baseline": "alphabetic", "align": "center", "color": "black"},
   "encoding": {"x": {"field": "x", "type": "quantitative", "scale": {"domain": [0.5, 24.27]}, "axis": null}, "y": {"field": "y", "type": "quantitative", "scale": {"domain": [0, 15]}}, "text": {"field": "text"}}},
  {"data": {"name": "ann"}, "transform": [{"filter": "datum.e == 2 && datum.kind == 'sig'"}], "mark": {"type": "text", "fontSize": 19, "baseline": "middle", "align": "center", "color": "black"},
   "encoding": {"x": {"field": "x", "type": "quantitative", "scale": {"domain": [0.5, 24.27]}, "axis": null}, "y": {"field": "y", "type": "quantitative", "scale": {"domain": [0, 15]}}, "text": {"field": "text"}}},
  {"data": {"name": "ann"}, "transform": [{"filter": "datum.e == 2 && datum.kind == 'abc'"}], "mark": {"type": "text", "fontSize": 20, "fontWeight": "bold", "baseline": "middle", "align": "center", "color": "black"},
   "encoding": {"x": {"field": "x", "type": "quantitative", "scale": {"domain": [0.5, 24.27]}, "axis": null}, "y": {"field": "y", "type": "quantitative", "scale": {"domain": [0, 15]}}, "text": {"field": "text"}}},
  {"data": {"name": "d"}, "transform": [{"filter": "datum.e == 2"}, {"calculate": "datum.phase == 'Testing' ? datum.t + 21 : datum.t", "as": "x"}],
   "layer": [
    {"mark": {"type": "line", "color": "black", "strokeWidth": 2},
     "encoding": {"x": {"field": "x", "type": "quantitative", "scale": {"domain": [0.5, 24.27]}, "axis": null}, "y": {"field": "y", "type": "quantitative", "scale": {"domain": [0, 15]}}, "strokeDash": {"field": "g", "type": "nominal", "scale": {"domain": ["Control", "CXM"], "range": [[2, 2.5], [1, 0]]}, "legend": null}, "detail": {"field": "phase"}}},
    {"transform": [{"filter": "datum.hi != null"}], "mark": {"type": "rule", "color": "black", "strokeWidth": 1.2},
     "encoding": {"x": {"field": "x", "type": "quantitative", "scale": {"domain": [0.5, 24.27]}, "axis": null}, "y": {"field": "y", "type": "quantitative", "scale": {"domain": [0, 15]}}, "y2": {"field": "hi"}}},
    {"transform": [{"filter": "datum.hi != null"}], "mark": {"type": "tick", "orient": "horizontal", "color": "black", "size": 8, "thickness": 1.3},
     "encoding": {"x": {"field": "x", "type": "quantitative", "scale": {"domain": [0.5, 24.27]}, "axis": null}, "y": {"field": "hi", "type": "quantitative", "scale": {"domain": [0, 15]}}}},
    {"mark": {"type": "point", "filled": true, "opacity": 1},
     "encoding": {"x": {"field": "x", "type": "quantitative", "scale": {"domain": [0.5, 24.27]}, "axis": null}, "y": {"field": "y", "type": "quantitative", "scale": {"domain": [0, 15]}},
      "shape": {"field": "g", "type": "nominal", "scale": {"domain": ["Control", "CXM"], "range": ["diamond", "square"]}, "legend": null},
      "fill": {"field": "g", "type": "nominal", "scale": {"domain": ["Control", "CXM"], "range": ["#454545", "#000000"]}, "legend": null},
      "size": {"field": "g", "type": "nominal", "scale": {"domain": ["Control", "CXM"], "range": [64, 22]}, "legend": null}}}
   ]},
  {"data": {"name": "d"}, "transform": [{"filter": "false"}], "mark": {"type": "point", "filled": true, "color": "#2a2a2a", "opacity": 1},
   "encoding": {"x": {"field": "t", "type": "quantitative", "scale": {"domain": [0.5, 24.27]}, "axis": null}, "y": {"field": "y", "type": "quantitative", "scale": {"domain": [0, 15]}},
    "shape": {"field": "g", "type": "nominal", "scale": {"domain": ["Control", "CXM"], "range": ["M-1,-0.045H-0.86V0.045H-1Z M-0.72,-0.045H-0.58V0.045H-0.72Z M-0.44,-0.045H-0.3V0.045H-0.44Z M0.3,-0.045H0.44V0.045H0.3Z M0.58,-0.045H0.72V0.045H0.58Z M0.86,-0.045H1V0.045H0.86Z M0,-0.18L0.18,0L0,0.18L-0.18,0Z", "M-1,-0.045H1V0.045H-1Z M-0.12,-0.1H0.12V0.1H-0.12Z"]}, "legend": {"title": null, "orient": "none", "legendX": 291, "legendY": -32, "direction": "horizontal", "labelFontSize": 20, "labelColor": "black", "labelOffset": 7, "columnPadding": 10, "symbolSize": 1681, "symbolFillColor": "#2a2a2a", "symbolOpacity": 1, "padding": 0}}}}
 ]},
{"width": 795, "height": 168, "title": {"text": "Experiment 3", "dx": -51}, "resolve": {"axis": {"x": "independent"}, "scale": {"shape": "independent"}, "legend": {"shape": "independent"}},
 "layer": [
  {"data": {"name": "div"}, "transform": [{"filter": "datum.e == 3"}], "mark": {"type": "rule", "color": "black", "strokeWidth": 2, "strokeDash": [9,3,2,3]},
   "encoding": {"x": {"field": "x", "type": "quantitative", "scale": {"domain": [0.5, 24.27]}, "axis": {"orient": "bottom", "values": [0.5,1.5,2.5,3.5,4.5,5.5,6.5,7.5,8.5,9.5,10.5,11.5,12.5,13.5,14.5,15.5,16.5,17.5,18.5,19.5,20.5,21.5,22.5,23.5], "labels": false, "tickSize": 6, "tickColor": "#222", "tickWidth": 1.3, "domainColor": "#777", "domainWidth": 1.5, "title": null}},
    "y": {"field": "y", "type": "quantitative", "scale": {"domain": [0, 15]}, "axis": {"orient": "left", "values": [0,5,10,15], "title": "Number of strikes", "titleFontSize": 21, "titleFontWeight": "bold", "titleColor": "black", "titlePadding": 17, "labelFontSize": 21, "labelColor": "black", "labelPadding": 6, "tickSize": 7, "tickColor": "#777", "domainColor": "#777", "domainWidth": 1.3, "labelFlush": false}},
    "y2": {"field": "y2"}}},
  {"data": {"name": "ul"}, "transform": [{"filter": "datum.e == 3"}], "mark": {"type": "rule", "strokeWidth": 1.5},
   "encoding": {"x": {"field": "x", "type": "quantitative", "scale": {"domain": [0.5, 24.27]}, "axis": {"orient": "bottom", "values": [1,2,3,4,5,6,7,8,9,10,11,12,13,14,15,16,17,18,19,20,22,23,24], "labelExpr": "datum.value > 21 ? datum.value - 21 : datum.value", "domain": false, "ticks": false, "tickSize": 0, "labelPadding": 22, "labelFontSize": 21, "labelColor": "black", "labelFlush": false, "labelOverlap": false, "labelBound": false, "title": "Time (min)", "titleFontSize": 21, "titleFontWeight": "bold", "titleColor": "black", "titlePadding": 14, "titleX": 404}},
    "x2": {"field": "x2"},
    "y": {"field": "y", "type": "quantitative", "scale": {"domain": [0, 15]}},
    "color": {"field": "kind", "type": "nominal", "scale": {"domain": ["phase", "abc"], "range": ["black", "#8a8a8a"]}, "legend": null}}},
  {"data": {"name": "ann"}, "transform": [{"filter": "datum.e == 3 && datum.kind == 'phase'"}], "mark": {"type": "text", "fontStyle": "italic", "fontSize": 20, "baseline": "alphabetic", "align": "center", "color": "black"},
   "encoding": {"x": {"field": "x", "type": "quantitative", "scale": {"domain": [0.5, 24.27]}, "axis": null}, "y": {"field": "y", "type": "quantitative", "scale": {"domain": [0, 15]}}, "text": {"field": "text"}}},
  {"data": {"name": "ann"}, "transform": [{"filter": "datum.e == 3 && datum.kind == 'sig'"}], "mark": {"type": "text", "fontSize": 19, "baseline": "middle", "align": "center", "color": "black"},
   "encoding": {"x": {"field": "x", "type": "quantitative", "scale": {"domain": [0.5, 24.27]}, "axis": null}, "y": {"field": "y", "type": "quantitative", "scale": {"domain": [0, 15]}}, "text": {"field": "text"}}},
  {"data": {"name": "ann"}, "transform": [{"filter": "datum.e == 3 && datum.kind == 'abc'"}], "mark": {"type": "text", "fontSize": 20, "fontWeight": "bold", "baseline": "middle", "align": "center", "color": "black"},
   "encoding": {"x": {"field": "x", "type": "quantitative", "scale": {"domain": [0.5, 24.27]}, "axis": null}, "y": {"field": "y", "type": "quantitative", "scale": {"domain": [0, 15]}}, "text": {"field": "text"}}},
  {"data": {"name": "d"}, "transform": [{"filter": "datum.e == 3"}, {"calculate": "datum.phase == 'Testing' ? datum.t + 21 : datum.t", "as": "x"}],
   "layer": [
    {"mark": {"type": "line", "color": "black", "strokeWidth": 2},
     "encoding": {"x": {"field": "x", "type": "quantitative", "scale": {"domain": [0.5, 24.27]}, "axis": null}, "y": {"field": "y", "type": "quantitative", "scale": {"domain": [0, 15]}}, "strokeDash": {"field": "g", "type": "nominal", "scale": {"domain": ["Control", "CXM"], "range": [[2, 2.5], [1, 0]]}, "legend": null}, "detail": {"field": "phase"}}},
    {"transform": [{"filter": "datum.hi != null"}], "mark": {"type": "rule", "color": "black", "strokeWidth": 1.2},
     "encoding": {"x": {"field": "x", "type": "quantitative", "scale": {"domain": [0.5, 24.27]}, "axis": null}, "y": {"field": "y", "type": "quantitative", "scale": {"domain": [0, 15]}}, "y2": {"field": "hi"}}},
    {"transform": [{"filter": "datum.hi != null"}], "mark": {"type": "tick", "orient": "horizontal", "color": "black", "size": 8, "thickness": 1.3},
     "encoding": {"x": {"field": "x", "type": "quantitative", "scale": {"domain": [0.5, 24.27]}, "axis": null}, "y": {"field": "hi", "type": "quantitative", "scale": {"domain": [0, 15]}}}},
    {"mark": {"type": "point", "filled": true, "opacity": 1},
     "encoding": {"x": {"field": "x", "type": "quantitative", "scale": {"domain": [0.5, 24.27]}, "axis": null}, "y": {"field": "y", "type": "quantitative", "scale": {"domain": [0, 15]}},
      "shape": {"field": "g", "type": "nominal", "scale": {"domain": ["Control", "CXM"], "range": ["diamond", "square"]}, "legend": null},
      "fill": {"field": "g", "type": "nominal", "scale": {"domain": ["Control", "CXM"], "range": ["#454545", "#000000"]}, "legend": null},
      "size": {"field": "g", "type": "nominal", "scale": {"domain": ["Control", "CXM"], "range": [64, 22]}, "legend": null}}}
   ]},
  {"data": {"name": "d"}, "transform": [{"filter": "false"}], "mark": {"type": "point", "filled": true, "color": "#2a2a2a", "opacity": 1},
   "encoding": {"x": {"field": "t", "type": "quantitative", "scale": {"domain": [0.5, 24.27]}, "axis": null}, "y": {"field": "y", "type": "quantitative", "scale": {"domain": [0, 15]}},
    "shape": {"field": "g", "type": "nominal", "scale": {"domain": ["Control", "CXM"], "range": ["M-1,-0.045H-0.86V0.045H-1Z M-0.72,-0.045H-0.58V0.045H-0.72Z M-0.44,-0.045H-0.3V0.045H-0.44Z M0.3,-0.045H0.44V0.045H0.3Z M0.58,-0.045H0.72V0.045H0.58Z M0.86,-0.045H1V0.045H0.86Z M0,-0.18L0.18,0L0,0.18L-0.18,0Z", "M-1,-0.045H1V0.045H-1Z M-0.12,-0.1H0.12V0.1H-0.12Z"]}, "legend": {"title": null, "orient": "none", "legendX": 291, "legendY": -32, "direction": "horizontal", "labelFontSize": 20, "labelColor": "black", "labelOffset": 7, "columnPadding": 10, "symbolSize": 1681, "symbolFillColor": "#2a2a2a", "symbolOpacity": 1, "padding": 0}}}}
 ]},
{"width": 795, "height": 168, "title": {"text": "Experiment 4", "dx": -51}, "resolve": {"axis": {"x": "independent"}, "scale": {"shape": "independent"}, "legend": {"shape": "independent"}},
 "layer": [
  {"data": {"name": "div"}, "transform": [{"filter": "datum.e == 4"}], "mark": {"type": "rule", "color": "black", "strokeWidth": 2, "strokeDash": [9,3,2,3]},
   "encoding": {"x": {"field": "x", "type": "quantitative", "scale": {"domain": [0.5, 24.27]}, "axis": {"orient": "bottom", "values": [0.5,1.5,2.5,3.5,4.5,5.5,6.5,7.5,8.5,9.5,10.5,11.5,12.5,13.5,14.5,15.5,16.5,17.5,18.5,19.5,20.5,21.5,22.5,23.5], "labels": false, "tickSize": 6, "tickColor": "#222", "tickWidth": 1.3, "domainColor": "#777", "domainWidth": 1.5, "title": null}},
    "y": {"field": "y", "type": "quantitative", "scale": {"domain": [0, 15]}, "axis": {"orient": "left", "values": [0,5,10,15], "title": "Number of strikes", "titleFontSize": 21, "titleFontWeight": "bold", "titleColor": "black", "titlePadding": 17, "labelFontSize": 21, "labelColor": "black", "labelPadding": 6, "tickSize": 7, "tickColor": "#777", "domainColor": "#777", "domainWidth": 1.3, "labelFlush": false}},
    "y2": {"field": "y2"}}},
  {"data": {"name": "ul"}, "transform": [{"filter": "datum.e == 4"}], "mark": {"type": "rule", "strokeWidth": 1.5},
   "encoding": {"x": {"field": "x", "type": "quantitative", "scale": {"domain": [0.5, 24.27]}, "axis": {"orient": "bottom", "values": [1,2,3,4,5,6,7,8,9,10,11,12,13,14,15,16,17,18,19,20,22,23,24], "labelExpr": "datum.value > 21 ? datum.value - 21 : datum.value", "domain": false, "ticks": false, "tickSize": 0, "labelPadding": 22, "labelFontSize": 21, "labelColor": "black", "labelFlush": false, "labelOverlap": false, "labelBound": false, "title": "Time (min)", "titleFontSize": 21, "titleFontWeight": "bold", "titleColor": "black", "titlePadding": 14, "titleX": 404}},
    "x2": {"field": "x2"},
    "y": {"field": "y", "type": "quantitative", "scale": {"domain": [0, 15]}},
    "color": {"field": "kind", "type": "nominal", "scale": {"domain": ["phase", "abc"], "range": ["black", "#8a8a8a"]}, "legend": null}}},
  {"data": {"name": "ann"}, "transform": [{"filter": "datum.e == 4 && datum.kind == 'phase'"}], "mark": {"type": "text", "fontStyle": "italic", "fontSize": 20, "baseline": "alphabetic", "align": "center", "color": "black"},
   "encoding": {"x": {"field": "x", "type": "quantitative", "scale": {"domain": [0.5, 24.27]}, "axis": null}, "y": {"field": "y", "type": "quantitative", "scale": {"domain": [0, 15]}}, "text": {"field": "text"}}},
  {"data": {"name": "ann"}, "transform": [{"filter": "datum.e == 4 && datum.kind == 'sig'"}], "mark": {"type": "text", "fontSize": 19, "baseline": "middle", "align": "center", "color": "black"},
   "encoding": {"x": {"field": "x", "type": "quantitative", "scale": {"domain": [0.5, 24.27]}, "axis": null}, "y": {"field": "y", "type": "quantitative", "scale": {"domain": [0, 15]}}, "text": {"field": "text"}}},
  {"data": {"name": "ann"}, "transform": [{"filter": "datum.e == 4 && datum.kind == 'abc'"}], "mark": {"type": "text", "fontSize": 20, "fontWeight": "bold", "baseline": "middle", "align": "center", "color": "black"},
   "encoding": {"x": {"field": "x", "type": "quantitative", "scale": {"domain": [0.5, 24.27]}, "axis": null}, "y": {"field": "y", "type": "quantitative", "scale": {"domain": [0, 15]}}, "text": {"field": "text"}}},
  {"data": {"name": "d"}, "transform": [{"filter": "datum.e == 4"}, {"calculate": "datum.phase == 'Testing' ? datum.t + 21 : datum.t", "as": "x"}],
   "layer": [
    {"mark": {"type": "line", "color": "black", "strokeWidth": 2},
     "encoding": {"x": {"field": "x", "type": "quantitative", "scale": {"domain": [0.5, 24.27]}, "axis": null}, "y": {"field": "y", "type": "quantitative", "scale": {"domain": [0, 15]}}, "strokeDash": {"field": "g", "type": "nominal", "scale": {"domain": ["Control", "CXM"], "range": [[2, 2.5], [1, 0]]}, "legend": null}, "detail": {"field": "phase"}}},
    {"transform": [{"filter": "datum.hi != null"}], "mark": {"type": "rule", "color": "black", "strokeWidth": 1.2},
     "encoding": {"x": {"field": "x", "type": "quantitative", "scale": {"domain": [0.5, 24.27]}, "axis": null}, "y": {"field": "y", "type": "quantitative", "scale": {"domain": [0, 15]}}, "y2": {"field": "hi"}}},
    {"transform": [{"filter": "datum.hi != null"}], "mark": {"type": "tick", "orient": "horizontal", "color": "black", "size": 8, "thickness": 1.3},
     "encoding": {"x": {"field": "x", "type": "quantitative", "scale": {"domain": [0.5, 24.27]}, "axis": null}, "y": {"field": "hi", "type": "quantitative", "scale": {"domain": [0, 15]}}}},
    {"mark": {"type": "point", "filled": true, "opacity": 1},
     "encoding": {"x": {"field": "x", "type": "quantitative", "scale": {"domain": [0.5, 24.27]}, "axis": null}, "y": {"field": "y", "type": "quantitative", "scale": {"domain": [0, 15]}},
      "shape": {"field": "g", "type": "nominal", "scale": {"domain": ["Control", "CXM"], "range": ["diamond", "square"]}, "legend": null},
      "fill": {"field": "g", "type": "nominal", "scale": {"domain": ["Control", "CXM"], "range": ["#454545", "#000000"]}, "legend": null},
      "size": {"field": "g", "type": "nominal", "scale": {"domain": ["Control", "CXM"], "range": [64, 22]}, "legend": null}}}
   ]},
  {"data": {"name": "d"}, "transform": [{"filter": "false"}], "mark": {"type": "point", "filled": true, "color": "#2a2a2a", "opacity": 1},
   "encoding": {"x": {"field": "t", "type": "quantitative", "scale": {"domain": [0.5, 24.27]}, "axis": null}, "y": {"field": "y", "type": "quantitative", "scale": {"domain": [0, 15]}},
    "shape": {"field": "g", "type": "nominal", "scale": {"domain": ["Control", "CXM"], "range": ["M-1,-0.045H-0.86V0.045H-1Z M-0.72,-0.045H-0.58V0.045H-0.72Z M-0.44,-0.045H-0.3V0.045H-0.44Z M0.3,-0.045H0.44V0.045H0.3Z M0.58,-0.045H0.72V0.045H0.58Z M0.86,-0.045H1V0.045H0.86Z M0,-0.18L0.18,0L0,0.18L-0.18,0Z", "M-1,-0.045H1V0.045H-1Z M-0.12,-0.1H0.12V0.1H-0.12Z"]}, "legend": {"title": null, "orient": "none", "legendX": 291, "legendY": -32, "direction": "horizontal", "labelFontSize": 20, "labelColor": "black", "labelOffset": 7, "columnPadding": 10, "symbolSize": 1681, "symbolFillColor": "#2a2a2a", "symbolOpacity": 1, "padding": 0}}}}
 ]},
{"width": 795, "height": 168, "title": {"text": "Experiment 5", "dx": -51}, "resolve": {"axis": {"x": "independent"}, "scale": {"shape": "independent"}, "legend": {"shape": "independent"}},
 "layer": [
  {"data": {"name": "div"}, "transform": [{"filter": "datum.e == 5"}], "mark": {"type": "rule", "color": "black", "strokeWidth": 2, "strokeDash": [9,3,2,3]},
   "encoding": {"x": {"field": "x", "type": "quantitative", "scale": {"domain": [0.5, 24.27]}, "axis": {"orient": "bottom", "values": [0.5,1.5,2.5,3.5,4.5,5.5,6.5,7.5,8.5,9.5,10.5,11.5,12.5,13.5,14.5,15.5,16.5,17.5,18.5,19.5,20.5,21.5,22.5,23.5], "labels": false, "tickSize": 6, "tickColor": "#222", "tickWidth": 1.3, "domainColor": "#777", "domainWidth": 1.5, "title": null}},
    "y": {"field": "y", "type": "quantitative", "scale": {"domain": [0, 15]}, "axis": {"orient": "left", "values": [0,5,10,15], "title": "Number of strikes", "titleFontSize": 21, "titleFontWeight": "bold", "titleColor": "black", "titlePadding": 17, "labelFontSize": 21, "labelColor": "black", "labelPadding": 6, "tickSize": 7, "tickColor": "#777", "domainColor": "#777", "domainWidth": 1.3, "labelFlush": false}},
    "y2": {"field": "y2"}}},
  {"data": {"name": "ul"}, "transform": [{"filter": "datum.e == 5"}], "mark": {"type": "rule", "strokeWidth": 1.5},
   "encoding": {"x": {"field": "x", "type": "quantitative", "scale": {"domain": [0.5, 24.27]}, "axis": {"orient": "bottom", "values": [1,2,3,4,5,6,7,8,9,10,11,12,13,14,15,16,17,18,19,20,22,23,24], "labelExpr": "datum.value > 21 ? datum.value - 21 : datum.value", "domain": false, "ticks": false, "tickSize": 0, "labelPadding": 22, "labelFontSize": 21, "labelColor": "black", "labelFlush": false, "labelOverlap": false, "labelBound": false, "title": "Time (min)", "titleFontSize": 21, "titleFontWeight": "bold", "titleColor": "black", "titlePadding": 14, "titleX": 404}},
    "x2": {"field": "x2"},
    "y": {"field": "y", "type": "quantitative", "scale": {"domain": [0, 15]}},
    "color": {"field": "kind", "type": "nominal", "scale": {"domain": ["phase", "abc"], "range": ["black", "#8a8a8a"]}, "legend": null}}},
  {"data": {"name": "ann"}, "transform": [{"filter": "datum.e == 5 && datum.kind == 'phase'"}], "mark": {"type": "text", "fontStyle": "italic", "fontSize": 20, "baseline": "alphabetic", "align": "center", "color": "black"},
   "encoding": {"x": {"field": "x", "type": "quantitative", "scale": {"domain": [0.5, 24.27]}, "axis": null}, "y": {"field": "y", "type": "quantitative", "scale": {"domain": [0, 15]}}, "text": {"field": "text"}}},
  {"data": {"name": "ann"}, "transform": [{"filter": "datum.e == 5 && datum.kind == 'sig'"}], "mark": {"type": "text", "fontSize": 19, "baseline": "middle", "align": "center", "color": "black"},
   "encoding": {"x": {"field": "x", "type": "quantitative", "scale": {"domain": [0.5, 24.27]}, "axis": null}, "y": {"field": "y", "type": "quantitative", "scale": {"domain": [0, 15]}}, "text": {"field": "text"}}},
  {"data": {"name": "ann"}, "transform": [{"filter": "datum.e == 5 && datum.kind == 'abc'"}], "mark": {"type": "text", "fontSize": 20, "fontWeight": "bold", "baseline": "middle", "align": "center", "color": "black"},
   "encoding": {"x": {"field": "x", "type": "quantitative", "scale": {"domain": [0.5, 24.27]}, "axis": null}, "y": {"field": "y", "type": "quantitative", "scale": {"domain": [0, 15]}}, "text": {"field": "text"}}},
  {"data": {"name": "d"}, "transform": [{"filter": "datum.e == 5"}, {"calculate": "datum.phase == 'Testing' ? datum.t + 21 : datum.t", "as": "x"}],
   "layer": [
    {"mark": {"type": "line", "color": "black", "strokeWidth": 2},
     "encoding": {"x": {"field": "x", "type": "quantitative", "scale": {"domain": [0.5, 24.27]}, "axis": null}, "y": {"field": "y", "type": "quantitative", "scale": {"domain": [0, 15]}}, "strokeDash": {"field": "g", "type": "nominal", "scale": {"domain": ["Control", "CXM"], "range": [[2, 2.5], [1, 0]]}, "legend": null}, "detail": {"field": "phase"}}},
    {"transform": [{"filter": "datum.hi != null"}], "mark": {"type": "rule", "color": "black", "strokeWidth": 1.2},
     "encoding": {"x": {"field": "x", "type": "quantitative", "scale": {"domain": [0.5, 24.27]}, "axis": null}, "y": {"field": "y", "type": "quantitative", "scale": {"domain": [0, 15]}}, "y2": {"field": "hi"}}},
    {"transform": [{"filter": "datum.hi != null"}], "mark": {"type": "tick", "orient": "horizontal", "color": "black", "size": 8, "thickness": 1.3},
     "encoding": {"x": {"field": "x", "type": "quantitative", "scale": {"domain": [0.5, 24.27]}, "axis": null}, "y": {"field": "hi", "type": "quantitative", "scale": {"domain": [0, 15]}}}},
    {"mark": {"type": "point", "filled": true, "opacity": 1},
     "encoding": {"x": {"field": "x", "type": "quantitative", "scale": {"domain": [0.5, 24.27]}, "axis": null}, "y": {"field": "y", "type": "quantitative", "scale": {"domain": [0, 15]}},
      "shape": {"field": "g", "type": "nominal", "scale": {"domain": ["Control", "CXM"], "range": ["diamond", "square"]}, "legend": null},
      "fill": {"field": "g", "type": "nominal", "scale": {"domain": ["Control", "CXM"], "range": ["#454545", "#000000"]}, "legend": null},
      "size": {"field": "g", "type": "nominal", "scale": {"domain": ["Control", "CXM"], "range": [64, 22]}, "legend": null}}}
   ]},
  {"data": {"name": "d"}, "transform": [{"filter": "false"}], "mark": {"type": "point", "filled": true, "color": "#2a2a2a", "opacity": 1},
   "encoding": {"x": {"field": "t", "type": "quantitative", "scale": {"domain": [0.5, 24.27]}, "axis": null}, "y": {"field": "y", "type": "quantitative", "scale": {"domain": [0, 15]}},
    "shape": {"field": "g", "type": "nominal", "scale": {"domain": ["Control", "CXM"], "range": ["M-1,-0.045H-0.86V0.045H-1Z M-0.72,-0.045H-0.58V0.045H-0.72Z M-0.44,-0.045H-0.3V0.045H-0.44Z M0.3,-0.045H0.44V0.045H0.3Z M0.58,-0.045H0.72V0.045H0.58Z M0.86,-0.045H1V0.045H0.86Z M0,-0.18L0.18,0L0,0.18L-0.18,0Z", "M-1,-0.045H1V0.045H-1Z M-0.12,-0.1H0.12V0.1H-0.12Z"]}, "legend": {"title": null, "orient": "none", "legendX": 291, "legendY": -32, "direction": "horizontal", "labelFontSize": 20, "labelColor": "black", "labelOffset": 7, "columnPadding": 10, "symbolSize": 1681, "symbolFillColor": "#2a2a2a", "symbolOpacity": 1, "padding": 0}}}}
 ]}
]
}
